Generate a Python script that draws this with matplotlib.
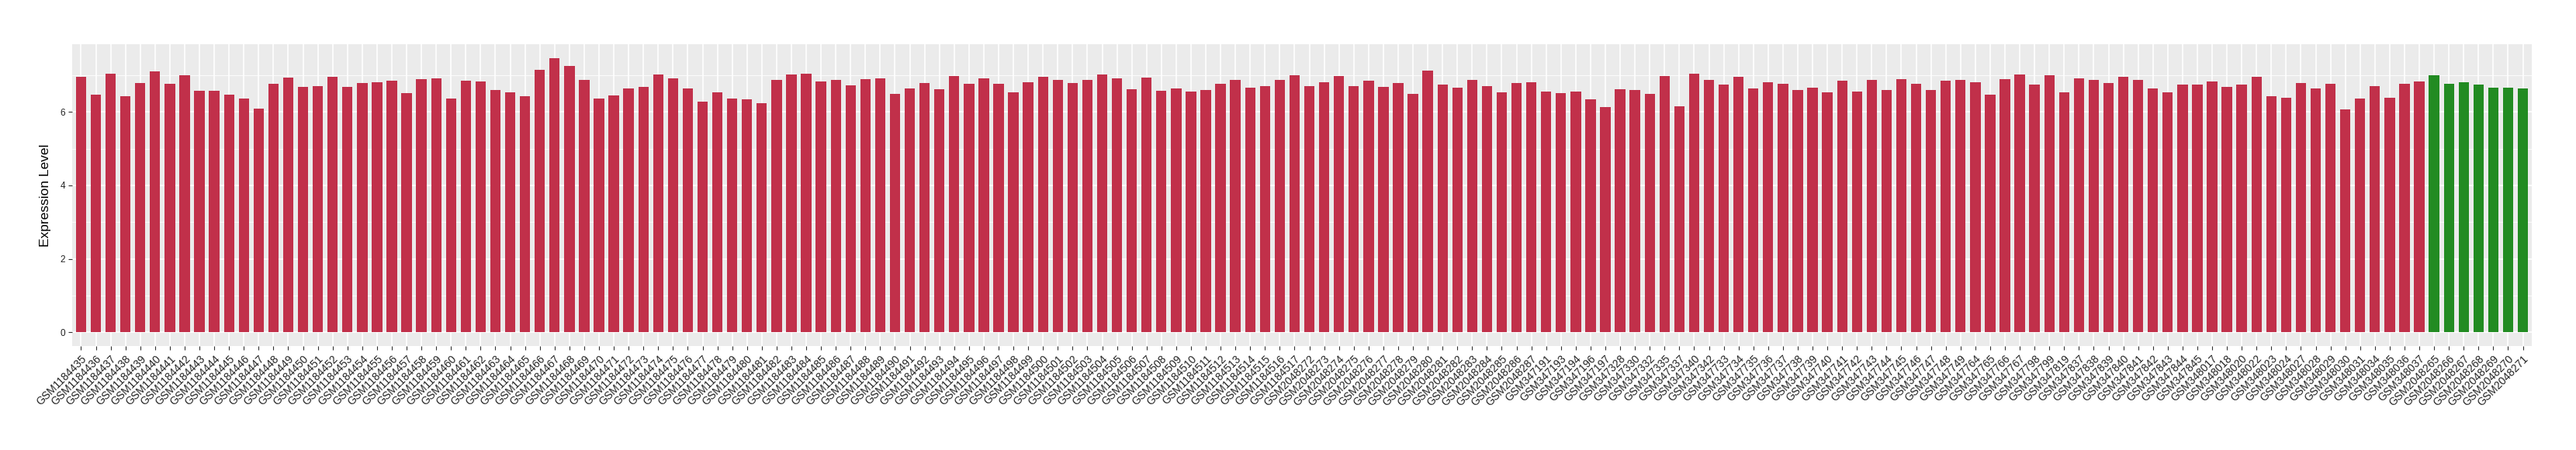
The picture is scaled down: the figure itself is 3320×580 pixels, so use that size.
import matplotlib
matplotlib.use("Agg")
import matplotlib.pyplot as plt
import numpy as np

# Proben-IDs (Tumor = rot, Normal = gruen)
tumor_ids = (
    [f"GSM{n}" for n in range(1184435, 1184518)]
    + [f"GSM{n}" for n in range(2048272, 2048288)]
    + ["GSM347191", "GSM347193", "GSM347194", "GSM347196", "GSM347197",
       "GSM347328", "GSM347330", "GSM347332", "GSM347335", "GSM347337",
       "GSM347340", "GSM347342"]
    + [f"GSM{n}" for n in range(347733, 347750)]
    + ["GSM347764", "GSM347765", "GSM347766", "GSM347767",
       "GSM347798", "GSM347799", "GSM347819"]
    + [f"GSM{n}" for n in range(347837, 347846)]
    + ["GSM348017", "GSM348018", "GSM348020", "GSM348022", "GSM348023",
       "GSM348024", "GSM348027", "GSM348028", "GSM348029", "GSM348030",
       "GSM348031", "GSM348034", "GSM348035", "GSM348036", "GSM348037"]
)
normal_ids = [f"GSM{n}" for n in range(2048265, 2048272)]

tumor_values = [
    6.96, 6.46, 7.04, 6.42, 6.79, 7.11, 6.76, 7.00, 6.57, 6.57,
    6.46, 6.36, 6.08, 6.76, 6.94, 6.68, 6.70, 6.96, 6.68, 6.79,
    6.81, 6.85, 6.51, 6.89, 6.91, 6.36, 6.85, 6.83, 6.59, 6.53,
    6.42, 7.15, 7.47, 7.26, 6.87, 6.36, 6.44, 6.64, 6.68, 7.02,
    6.91, 6.64, 6.29, 6.53, 6.36, 6.34, 6.23, 6.87, 7.02, 7.04,
    6.83, 6.87, 6.72, 6.89, 6.91, 6.49, 6.64, 6.79, 6.61, 6.98,
    6.76, 6.91, 6.76, 6.53, 6.81, 6.96, 6.87, 6.79, 6.87, 7.02,
    6.91, 6.61, 6.94, 6.57, 6.64, 6.55, 6.59, 6.76, 6.87, 6.66,
    6.70, 6.87, 7.00, 6.70, 6.81, 6.98, 6.70, 6.85, 6.68, 6.79,
    6.49, 7.13, 6.74, 6.66, 6.87, 6.70, 6.53, 6.79, 6.81, 6.55,
    6.51, 6.55, 6.34, 6.14, 6.61, 6.59, 6.49, 6.98, 6.16, 7.04,
    6.87, 6.74, 6.96, 6.64, 6.81, 6.76, 6.59, 6.66, 6.53, 6.85,
    6.55, 6.87, 6.59, 6.89, 6.76, 6.59, 6.85, 6.87, 6.81, 6.46,
    6.89, 7.02, 6.74, 7.00, 6.53, 6.91, 6.87, 6.79, 6.96, 6.87,
    6.64, 6.53, 6.74, 6.74, 6.83, 6.68, 6.74, 6.96, 6.42, 6.38,
    6.79, 6.64, 6.76, 6.06, 6.36, 6.70, 6.38, 6.76, 6.83,
]
normal_values = [7.00, 6.76, 6.81, 6.74, 6.66, 6.66, 6.64]

tumor_color = "#C1304A"
normal_color = "#228B22"

labels = tumor_ids + normal_ids
values = np.array(tumor_values + normal_values)
colors = [tumor_color] * len(tumor_values) + [normal_color] * len(normal_values)
x = np.arange(len(values))

plt.rcParams["font.family"] = ["Liberation Sans", "DejaVu Sans"]

fig = plt.figure(figsize=(33.2, 5.8), dpi=100)
ax = fig.add_axes([93 / 3320, 1 - 446 / 580, (3263 - 93) / 3320, (446 - 57) / 580])

# ggplot-aehnlicher Hintergrund
ax.set_facecolor("#EBEBEB")
for s in ax.spines.values():
    s.set_visible(False)

ymax = values.max()
ax.set_ylim(-0.05 * ymax, 1.05 * ymax)
ax.set_xlim(-0.6, len(values) - 0.4)

for yv in [1, 3, 5, 7]:
    ax.axhline(yv, color="white", lw=0.6, zorder=0)
for yv in [0, 2, 4, 6]:
    ax.axhline(yv, color="white", lw=1.2, zorder=0)
for xv in x:
    ax.axvline(xv, color="white", lw=1.2, zorder=0)

ax.bar(x, values, width=0.7, color=colors, zorder=2)

ax.set_yticks([0, 2, 4, 6])
ax.set_yticklabels(["0", "2", "4", "6"], fontsize=8.5, color="#222222")
ax.set_xticks(x)
ax.set_xticklabels(labels, rotation=45, ha="right", va="top",
                   rotation_mode="anchor", fontsize=10, color="#222222")
ax.tick_params(axis="both", length=3.5, width=0.8, color="#333333", pad=3)

ax.set_ylabel("Expression Level", fontsize=12.5, labelpad=8)

fig.savefig("out.png", dpi=100)
